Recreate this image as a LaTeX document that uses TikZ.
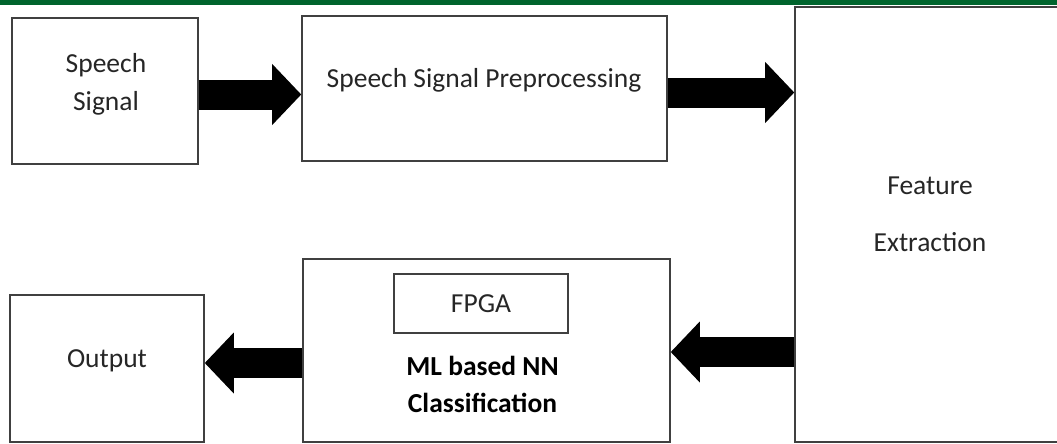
\documentclass[tikz,border=0pt]{standalone}
\usepackage{fontspec}
\setmainfont{Carlito}
\usetikzlibrary{arrows.meta,positioning}
\definecolor{bargreen}{RGB}{0,100,45}

\begin{document}
\begin{tikzpicture}[x=1pt, y=-1pt, every node/.style={font=\fontsize{27.5}{38}\selectfont, text=black!85, align=center},
			box/.style={draw=black!75, line width=1.6pt, inner sep=0pt},
			blk/.style={line width=30pt, -{Triangle[length=29pt, width=61pt, line width=0pt]}}]
			\fill[white] (0,0) rectangle (1057,444);
			\useasboundingbox (0,0) rectangle (1057,444);
			\clip (0,0) rectangle (1057,444);
			\fill[bargreen] (0,0) rectangle (1057,5);
			% blocks
			\node[box, minimum width=186pt, minimum height=146pt] (sig) at (105,91) {};
			\node[box, minimum width=365pt, minimum height=145pt] (pre) at (484.5,88.5) {};
			\node[box, minimum width=270pt, minimum height=435pt] (feat) at (930,224.5) {};
			\node[box, minimum width=367pt, minimum height=183pt] (ml) at (486.5,350.5) {};
			\node[box, minimum width=174pt, minimum height=59pt] (fpga) at (481,303.5) {FPGA};
			\node[box, minimum width=194pt, minimum height=147pt] (out) at (107,368.5) {};
			% labels
			\node (sigtxt) at (106,84) {Speech\\Signal};
			\node (pretxt) at (484,80) {Speech Signal Preprocessing};
			\node[font=\fontsize{27.5}{57}\selectfont] (feattxt) at (930,214.5) {Feature\\Extraction};
			\node[font=\bfseries\fontsize{27.5}{37}\selectfont, text=black] (mltxt) at (482.5,384) {ML based NN\\Classification};
			\node (outtxt) at (107,361) {Output};
			% arrows
			\draw[blk] ([yshift=-3.5pt]sig.east) -- ([yshift=-3.5pt]sig.east -| pre.west);
			\draw[blk] ([yshift=-4pt]pre.east) -- ([yshift=-4pt]pre.east -| feat.west);
			\draw[blk] ([yshift=-1.5pt]ml.east -| feat.west) -- ([yshift=-1.5pt]ml.east);
			\draw[blk] ([yshift=5.5pt]out.east -| ml.west) -- ([yshift=5.5pt]out.east);
		\end{tikzpicture}
\end{document}
